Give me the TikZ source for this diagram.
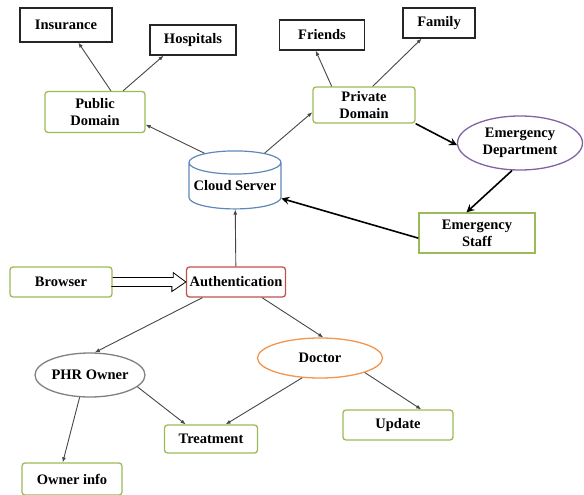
\documentclass[tikz,border=0pt]{standalone}
\usepackage{fontspec}
\setmainfont{Liberation Serif}
\usetikzlibrary{shapes.geometric,arrows.meta}

\definecolor{boxgreen}{RGB}{155,187,89}
\definecolor{edpurple}{RGB}{128,100,162}
\definecolor{docorange}{RGB}{240,150,80}
\definecolor{authred}{RGB}{192,80,77}
\definecolor{cloudblue}{RGB}{95,135,185}
\definecolor{linegray}{RGB}{70,70,70}

\begin{document}
\begin{tikzpicture}[x=1pt,y=-1pt,
		font=\bfseries\fontsize{14.5}{17}\selectfont,
		plainbox/.style={draw=black!85,line width=1.3pt,inner sep=1pt,align=center},
		greenbox/.style={draw=boxgreen,line width=1.3pt,rounded corners=3pt,inner sep=1pt,align=center},
		oval/.style={ellipse,line width=1.3pt,inner sep=0pt,align=center},
		thin/.style={draw=linegray,line width=0.9pt,-{Latex[length=5pt,width=4pt]}},
		thick/.style={draw=black,line width=1.6pt,-{Stealth[length=8pt,width=8pt,inset=3pt]}}]
		\useasboundingbox (0,0) rectangle (584,495);
		% top row
		\node[plainbox,minimum width=92,minimum height=34] (ins) at (66,25) {Insurance};
		\node[plainbox,minimum width=86,minimum height=30] (hosp) at (193,40) {Hospitals};
		\node[plainbox,minimum width=85,minimum height=30] (friends) at (322,35) {Friends};
		\node[plainbox,minimum width=72,minimum height=30] (family) at (439,23) {Family};
		% domains
		\node[greenbox,minimum width=100,minimum height=41] (pub) at (95,112) {Public\\Domain};
		\node[greenbox,minimum width=102,minimum height=36] (priv) at (364,105) {Private\\Domain};
		\node[oval,draw=edpurple,minimum width=125,minimum height=54] (ed) at (520,143) {Emergency\\Department};
		\node[greenbox,rounded corners=0pt,minimum width=116,minimum height=40] (staff) at (477,233) {Emergency\\Staff};
		\node[cylinder,shape border rotate=90,aspect=0.28,draw=cloudblue,line width=1.2pt,
			minimum width=92,minimum height=58,inner sep=0pt] (cloud) at (235,186) {Cloud Server};
		% access
		\node[greenbox,minimum width=102,minimum height=30] (browser) at (61,282) {Browser};
		\node[greenbox,draw=authred,minimum width=99,minimum height=30] (auth) at (236,282) {Authentication};
		\node[oval,draw=gray,minimum width=110,minimum height=44] (phr) at (90,375) {PHR Owner};
		\node[oval,draw=docorange,minimum width=125,minimum height=40] (doctor) at (320,358) {Doctor};
		\node[greenbox,minimum width=93,minimum height=28] (treat) at (211,439) {Treatment};
		\node[greenbox,minimum width=100,minimum height=32] (owner) at (72,479) {Owner info};
		\node[greenbox,minimum width=110,minimum height=30] (update) at (398,425) {Update};
		% connectors
		\draw[thin] (pub.53) -- (ins.-55);
		\draw[thin] (pub.37) -- (hosp.208);
		\draw[thin] (cloud.133) -- (pub.-14);
		\draw[thin] (cloud.48) -- (priv.188);
		\draw[thin] (priv.150) -- (friends.248);
		\draw[thin] (priv.65) -- (family.222);
		\draw[thick] (priv.south east) -- (ed.182);
		\draw[thick] (ed.-106) -- (staff.117);
		\draw[thick] (staff.185) -- (cloud.-15);
		\draw[thin] (auth) -- (cloud);
		% hollow arrow from browser
		\draw[line width=0.8pt,line join=miter] (browser.east) ++(0,-4.5) -- ++(60.5,0) -- ++(0,-5)
			-- (auth.west) -- ++(-14,9.5) -- ++(0,-5) -- ++(-60.5,0);
		\draw[thin] (auth.205) -- (phr.78);
		\draw[thin] (auth.-31) -- (doctor.81);
		\draw[thin] (phr.-14) -- (treat.150);
		\draw[thin] (doctor.228) -- (treat.45);
		\draw[thin] (phr.245) -- (owner.119);
		\draw[thin] (doctor.-18) -- (update.34);
	\end{tikzpicture}
\end{document}
